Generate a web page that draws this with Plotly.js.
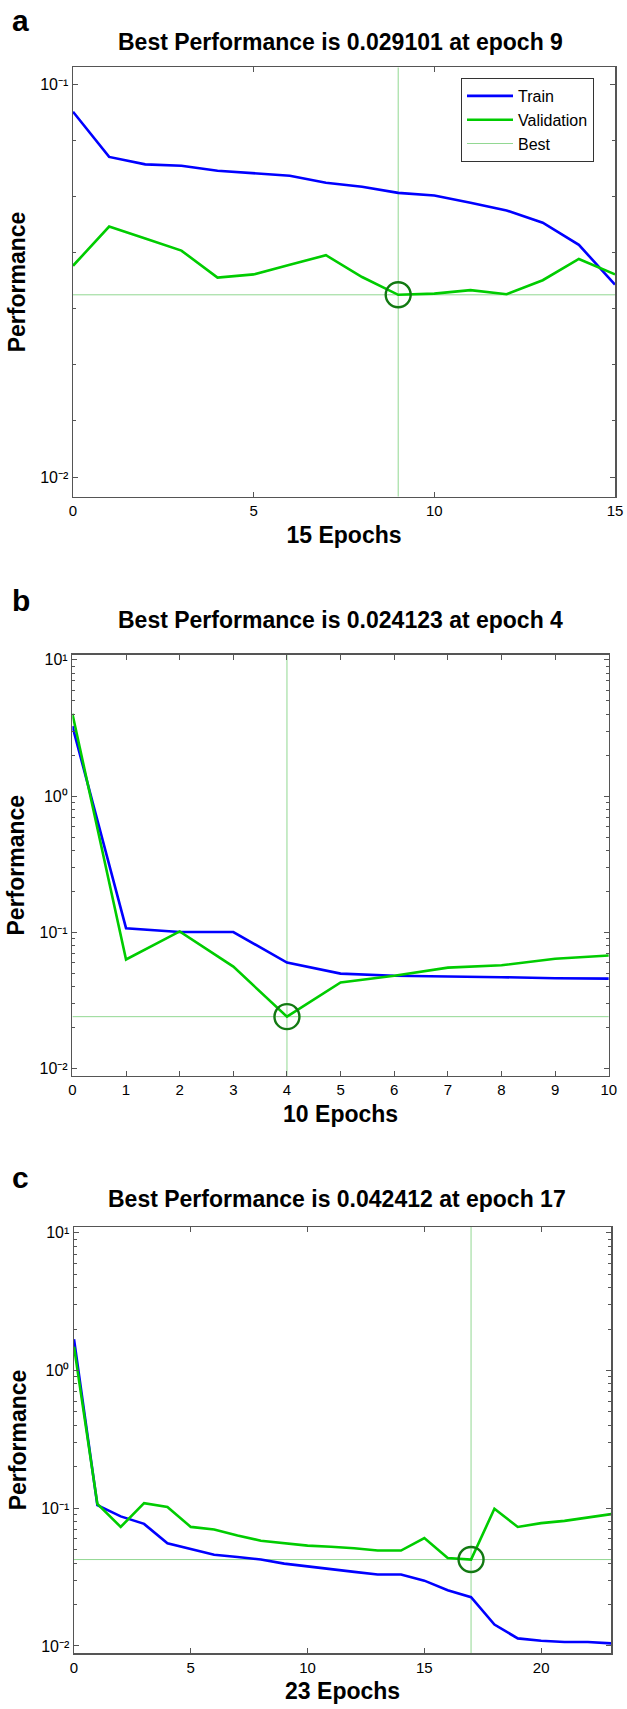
<!DOCTYPE html>
<html><head><meta charset="utf-8">
<script src="https://cdn.plot.ly/plotly-3.0.1.min.js"></script>
<style>html,body{margin:0;padding:0;background:#fff}#chart{width:627px;height:1709px}</style>
</head><body><div id="chart"></div>
<script>
// ---------- data ----------
const epochsA = [0,1,2,3,4,5,6,7,8,9,10,11,12,13,14,15];
const trainA = [0.0851,0.0653,0.0625,0.0620,0.0602,0.0594,0.0585,0.0561,0.0548,0.0529,0.0521,0.0499,0.0477,0.0444,0.0390,0.0309];
const valA   = [0.0345,0.0434,0.0405,0.0377,0.0322,0.0328,0.0347,0.0367,0.0323,0.029101,0.0293,0.0299,0.0292,0.0317,0.0359,0.0328];
const bestEpochA = 9, bestValA = 0.029101;

const epochsB = [0,1,2,3,4,5,6,7,8,9,10];
const trainB = [3.26,0.1075,0.1007,0.1007,0.0601,0.0499,0.0481,0.0478,0.0470,0.0462,0.0459];
const valB   = [4.02,0.0634,0.1018,0.0562,0.024123,0.0430,0.0481,0.0552,0.0575,0.0641,0.0678];
const bestEpochB = 4, bestValB = 0.024123;

const epochsC = [0,1,2,3,4,5,6,7,8,9,10,11,12,13,14,15,16,17,18,19,20,21,22,23];
const trainC = [1.69,0.1054,0.0873,0.0770,0.0556,0.0503,0.0460,0.0443,0.0424,0.0396,0.0379,0.0365,0.0345,0.0330,0.0330,0.0298,0.0254,0.0226,0.0143,0.01135,0.0109,0.0107,0.0107,0.01045];
const valC   = [1.49,0.1074,0.0732,0.1088,0.1021,0.0732,0.0702,0.0634,0.0581,0.0556,0.0535,0.0525,0.0512,0.0493,0.0493,0.0607,0.0435,0.042412,0.0991,0.0732,0.0780,0.0810,0.0857,0.0906];
const bestEpochC = 17, bestValC = 0.042412;

const titles = ['Best Performance is 0.029101 at epoch 9','Best Performance is 0.024123 at epoch 4','Best Performance is 0.042412 at epoch 17'];
const xTitles = ['15 Epochs','10 Epochs','23 Epochs'];
const yTitle = 'Performance';
const panelLetters = ['a','b','c'];
const seriesNames = ['Train','Validation','Best'];

// tick labels
const xTickA = [0,5,10,15];
const xTickB = [0,1,2,3,4,5,6,7,8,9,10];
const xTickC = [0,5,10,15,20];
const yTickValsA = [0.01,0.1];
const yTickTextA = ['10\u207B\u00B2','10\u207B\u00B9'];
const yMinorA = [0.07197,0.05179,0.03728,0.02683,0.01931,0.01390];
const yTickValsBC = [0.01,0.1,1,10];
const yTickTextBC = ['10\u207B\u00B2','10\u207B\u00B9','10\u2070','10\u00B9'];
const yMinorBC = [0.02,0.03,0.04,0.05,0.06,0.07,0.08,0.09,0.2,0.3,0.4,0.5,0.6,0.7,0.8,0.9,2,3,4,5,6,7,8,9];

// axis ranges (x in epochs, y in log10 units)
const xRangeA = [0,15], xRangeB = [0,10], xRangeC = [0,23];
const yRangeA = [-2.050,-0.957], yRangeB = [-2.052,1.039], yRangeC = [-2.051,1.042];

// ---------- styling ----------
const F = 'Liberation Sans, Arial, sans-serif';
const H = 1709, W = 627;
const AX = '#555';
const C_TRAIN = '#0000ff', C_VAL = '#00cc00', C_BEST = '#92d892', C_CIRC = '#127a12';

function panelTraces(ax, ay, ep, tr, va, be, bv, xr, yr, legend) {
  return [
    {x:[xr[0],xr[1]], y:[bv,bv], xaxis:ax, yaxis:ay, mode:'lines', name:seriesNames[2], line:{color:C_BEST,width:1}, showlegend:legend, legendrank:3, hoverinfo:'skip'},
    {x:[be,be], y:[Math.pow(10,yr[0]),Math.pow(10,yr[1])], xaxis:ax, yaxis:ay, mode:'lines', line:{color:C_BEST,width:1}, showlegend:false, hoverinfo:'skip'},
    {x:ep, y:tr, xaxis:ax, yaxis:ay, mode:'lines', name:seriesNames[0], line:{color:C_TRAIN,width:2.6}, showlegend:legend, legendrank:1},
    {x:ep, y:va, xaxis:ax, yaxis:ay, mode:'lines', name:seriesNames[1], line:{color:C_VAL,width:2.6}, showlegend:legend, legendrank:2},
    {x:[be], y:[bv], xaxis:ax, yaxis:ay, mode:'markers', marker:{symbol:'circle-open', size:25, color:C_CIRC, line:{width:2.4, color:C_CIRC}}, showlegend:false}
  ];
}

const data = [].concat(
  panelTraces('x','y',epochsA,trainA,valA,bestEpochA,bestValA,xRangeA,yRangeA,true),
  panelTraces('x2','y2',epochsB,trainB,valB,bestEpochB,bestValB,xRangeB,yRangeB,false),
  panelTraces('x3','y3',epochsC,trainC,valC,bestEpochC,bestValC,xRangeC,yRangeC,false)
);

function xAxis(dom, range, tv, title, anchor) {
  return {domain:dom, range:range, anchor:anchor, tickmode:'array', tickvals:tv,
    ticks:'inside', ticklen:5, tickwidth:1, tickcolor:AX, showline:true, linecolor:AX, linewidth:1.5,
    mirror:'allticks', showgrid:false, zeroline:false, fixedrange:true,
    tickfont:{family:F,size:15,color:'#000'},
    title:{text:title, font:{family:F,size:23,color:'#000',weight:700}, standoff:8}};
}
function yAxis(dom, range, tv, tt, minor, anchor) {
  return {type:'log', domain:dom, range:range, anchor:anchor, tickmode:'array', tickvals:tv, ticktext:tt,
    ticks:'inside', ticklen:5, tickwidth:1, tickcolor:AX, showline:true, linecolor:AX, linewidth:1.5,
    mirror:'allticks', showgrid:false, zeroline:false, fixedrange:true,
    minor:{tickmode:'array', tickvals:minor, ticks:'inside', ticklen:3, tickwidth:1, tickcolor:AX, showgrid:false},
    tickfont:{family:F,size:16,color:'#000'},
    title:{text:yTitle, font:{family:F,size:23,color:'#000',weight:700}, standoff:8}};
}

function ann(text, xpx, ypx, size, anchor) {
  return {text:text, xref:'paper', yref:'paper', x:xpx/W, y:1-ypx/H,
    xanchor:anchor, yanchor:'middle', showarrow:false, font:{family:F,size:size,color:'#000',weight:700}};
}

const layout = {
  width:W, height:H, margin:{l:0,r:0,t:0,b:0},
  paper_bgcolor:'#fff', plot_bgcolor:'#fff',
  showlegend:true,
  legend:{x:461/W, y:1-78/H, xanchor:'left', yanchor:'top', bgcolor:'#fff', bordercolor:'#333', borderwidth:1,
    font:{family:F,size:16,color:'#000'}, itemwidth:46, tracegroupgap:0},
  xaxis: xAxis([73/W,615/W], xRangeA, xTickA, xTitles[0], 'y'),
  yaxis: yAxis([1-496.7/H,1-67.3/H], yRangeA, yTickValsA, yTickTextA, yMinorA, 'x'),
  xaxis2: xAxis([72.4/W,608.8/W], xRangeB, xTickB, xTitles[1], 'y2'),
  yaxis2: yAxis([1-1075.9/H,1-654.5/H], yRangeB, yTickValsBC, yTickTextBC, yMinorBC, 'x2'),
  xaxis3: xAxis([74/W,611.2/W], xRangeC, xTickC, xTitles[2], 'y3'),
  yaxis3: yAxis([1-1653/H,1-1227/H], yRangeC, yTickValsBC, yTickTextBC, yMinorBC, 'x3'),
  annotations:[
    ann(panelLetters[0], 10, 21, 30, 'left'),
    ann(titles[0], 340, 41.8, 23, 'center'),
    ann(panelLetters[1], 10, 600.7, 30, 'left'),
    ann(titles[1], 340, 620.2, 23, 'center'),
    ann(panelLetters[2], 10, 1177.3, 30, 'left'),
    ann(titles[2], 337, 1199, 23, 'center')
  ]
};

Plotly.newPlot('chart', data, layout, {displayModeBar:false, staticPlot:true});
</script>
</body></html>
